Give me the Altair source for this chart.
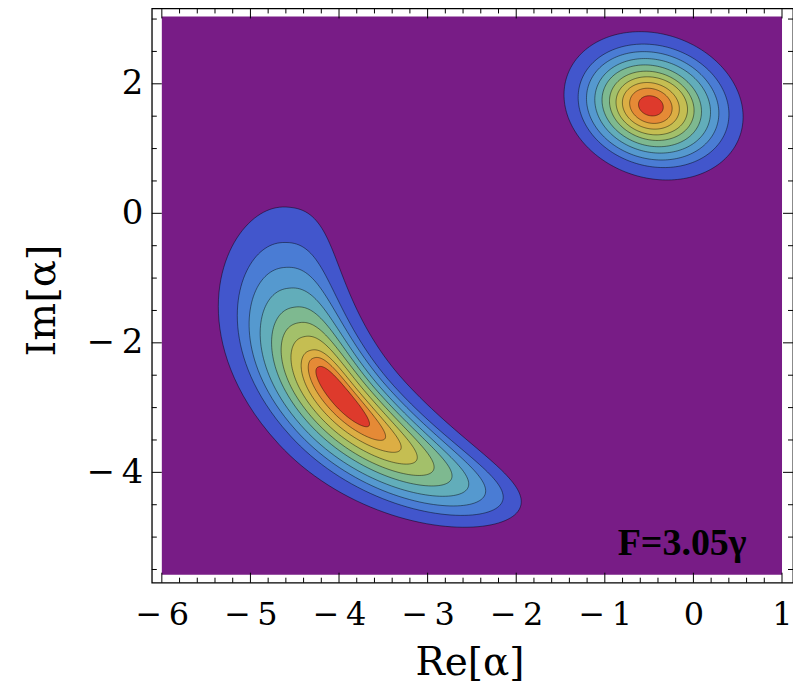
import numpy as np
import pandas as pd
import altair as alt

# ---------------- axes / frame ----------------
X_PLOT = [-6.0, 1.0]          # purple data region
Y_PLOT = [-5.58, 3.04]
X_FRAME = [-6.113, 1.124]     # frame (white gap around the data region)
Y_FRAME = [-5.704, 3.164]
X_MAJOR = [-6, -5, -4, -3, -2, -1, 0, 1]
Y_MAJOR = [-4, -2, 0, 2]
X_MINOR = [round(-6 + 0.2 * i, 1) for i in range(36) if i % 5]
Y_MINOR = [-5.5, -5.0, -4.5, -3.5, -3.0, -2.5, -1.5, -1.0, -0.5, 0.5, 1.0, 1.5, 2.5, 3.0]

BACKGROUND = "#781C86"
BAND_COLORS = ["#4256CC", "#4A7CD4", "#5599CF", "#62ADBA", "#7EB990",
               "#A3C06A", "#C5BE52", "#DCAE44", "#E58A36", "#DE3A2C"]

# ---------------- right lobe: contour ellipses (outer -> inner) ----------------
R_CX = [-0.45, -0.45, -0.46, -0.46, -0.47, -0.47, -0.47, -0.48, -0.48, -0.48]
R_CY = [1.66, 1.66, 1.66, 1.66, 1.66, 1.66, 1.66, 1.66, 1.66, 1.66]
R_A = [0.97, 0.82, 0.72, 0.63, 0.54, 0.46, 0.39, 0.31, 0.23, 0.135]
R_B = [1.18, 0.98, 0.86, 0.75, 0.65, 0.55, 0.46, 0.37, 0.28, 0.16]
R_TILT = 25

# ---------------- crescent lobe: contours in polar coords about a pivot ----------------
PIVOT = (-0.2, -0.55)
C_PHI_TOP = [171.6, 178.7, 183.7, 187.9, 191.8, 195.0, 197.9, 200.8, 202.4, 204.3]
C_PHI_MID = [214.0, 213.6, 213.2, 212.8, 212.5, 212.2, 211.9, 211.6, 211.4, 211.3]
C_PHI_TAIL = [246.3, 243.4, 240.5, 237.6, 234.6, 231.4, 228.2, 225.0, 221.8, 218.3]
C_RHO_IN = [3.68, 3.82, 3.89, 3.96, 4.02, 4.08, 4.14, 4.20, 4.25, 4.30]
C_RHO_OUT = [5.40, 5.22, 5.12, 5.03, 4.94, 4.86, 4.78, 4.70, 4.62, 4.54]
C_DROOP = [0.14, 0.12, 0.10, 0.09, 0.08, 0.06, 0.05, 0.04, 0.02, 0.0]

ANNOT_X = [0.6]
ANNOT_Y = [-5.28]
ANNOT_TEXT = ["F=3.05γ"]

N = 180
t = np.linspace(0, 2 * np.pi, N, endpoint=False)


def ellipse_ring(k):
    th = np.radians(R_TILT)
    u = R_A[k] * np.cos(t)
    v = R_B[k] * np.sin(t)
    x = R_CX[k] + u * np.cos(th) - v * np.sin(th)
    y = R_CY[k] + u * np.sin(th) + v * np.cos(th)
    return x, y


def crescent_ring(k):
    c = np.cos(t)
    s = np.sin(t)
    # slightly blunt end towards the top tip, tapering tail
    expo = np.where(c < 0, 0.88, 1.0)
    u = np.sign(c) * np.abs(c) ** expo
    v = np.sign(s) * np.abs(s) ** expo
    span = np.where(u < 0, C_PHI_MID[k] - C_PHI_TOP[k], C_PHI_TAIL[k] - C_PHI_MID[k])
    phi = np.radians(C_PHI_MID[k] + u * span)
    rc = (C_RHO_IN[k] + C_RHO_OUT[k]) / 2
    w = (C_RHO_OUT[k] - C_RHO_IN[k]) / 2
    rho = rc + v * w - C_DROOP[k] * u ** 2
    return PIVOT[0] + rho * np.cos(phi), PIVOT[1] + rho * np.sin(phi)


xs = alt.Scale(domain=X_FRAME, nice=False, zero=False)
ys = alt.Scale(domain=Y_FRAME, nice=False, zero=False)
W, H = 642, 575

serif = "DejaVu Serif"
LABEL_EXPR = "datum.value < 0 ? '\u2212\u2009' + format(-datum.value, 'd') : format(datum.value, 'd')"

X_AXIS = alt.Axis(values=X_MAJOR, grid=False, ticks=False, domain=False,
                  labelFont=serif, labelFontSize=32, labelColor="black",
                  labelPadding=17, labelExpr=LABEL_EXPR,
                  titleFont=serif, titleFontSize=39, titleFontWeight="normal",
                  titleColor="black", titleBaseline="alphabetic", titleY=92, titleX=318)
Y_AXIS = alt.Axis(values=Y_MAJOR, grid=False, ticks=False, domain=False,
                  labelFont=serif, labelFontSize=34, labelColor="black",
                  labelPadding=9, labelExpr=LABEL_EXPR,
                  titleFont=serif, titleFontSize=40, titleFontWeight="normal",
                  titleColor="black", titleAngle=-90, titleBaseline="middle",
                  titleX=-109, titleY=292)
X_TITLE = "Re[α]"
Y_TITLE = "Im[α]"


def X(field):
    return alt.X(field, scale=xs, axis=X_AXIS, title=X_TITLE)


def Y(field):
    return alt.Y(field, scale=ys, axis=Y_AXIS, title=Y_TITLE)


bg = alt.Chart(pd.DataFrame({"x": [X_PLOT[0]], "x2": [X_PLOT[1]],
                             "y": [Y_PLOT[0]], "y2": [Y_PLOT[1]]})).mark_rect(
    color=BACKGROUND).encode(x=X("x:Q"), x2="x2:Q", y=Y("y:Q"), y2="y2:Q")

layers = [bg]
for k in range(10):
    rows = []
    ex, ey = ellipse_ring(k)
    for i in range(N):
        rows.append({"blob": "right", "i": i, "x": ex[i], "y": ey[i]})
    cx, cy = crescent_ring(k)
    for i in range(N):
        rows.append({"blob": "crescent", "i": i, "x": cx[i], "y": cy[i]})
    layers.append(
        alt.Chart(pd.DataFrame(rows)).mark_line(
            fill=BAND_COLORS[k], stroke="black", strokeOpacity=0.45, strokeWidth=1,
            interpolate="linear-closed").encode(
            x=X("x:Q"), y=Y("y:Q"), order=alt.Order("i:Q"), detail="blob:N")
    )


# frame ticks (inward, all four sides)
def xticks(vals, length):
    d = pd.DataFrame({"x": vals})
    bottom = alt.Chart(d).mark_rule(color="black", strokeWidth=1).encode(
        x=X("x:Q"), y=alt.value(H), y2=alt.value(H - length))
    top = alt.Chart(d).mark_rule(color="black", strokeWidth=1).encode(
        x=X("x:Q"), y=alt.value(0), y2=alt.value(length))
    return [bottom, top]


def yticks(vals, length):
    d = pd.DataFrame({"y": vals})
    left = alt.Chart(d).mark_rule(color="black", strokeWidth=1).encode(
        y=Y("y:Q"), x=alt.value(0), x2=alt.value(length))
    right = alt.Chart(d).mark_rule(color="black", strokeWidth=1).encode(
        y=Y("y:Q"), x=alt.value(W), x2=alt.value(W - length))
    return [left, right]


layers += xticks(X_MAJOR, 10) + xticks(X_MINOR, 5) + yticks(Y_MAJOR, 10) + yticks(Y_MINOR, 5)

annot = alt.Chart(pd.DataFrame({"x": ANNOT_X, "y": ANNOT_Y, "t": ANNOT_TEXT})).mark_text(
    font="Liberation Serif", fontSize=38, fontWeight="bold", align="right",
    baseline="alphabetic", color="black").encode(x=X("x:Q"), y=Y("y:Q"), text="t:N")
layers.append(annot)

chart = alt.layer(*layers).properties(
    width=W, height=H, autosize="none",
    padding={"left": 144, "top": 0, "right": 0, "bottom": 100},
).configure_view(stroke="black", strokeWidth=1.3)

chart.save("out.html", embed_options={"renderer": "svg", "actions": False})
